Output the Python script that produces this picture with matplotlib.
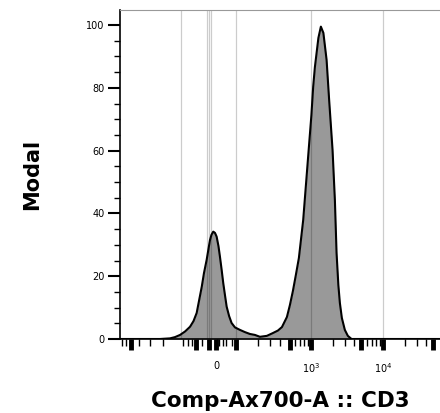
import numpy as np
import matplotlib
matplotlib.use("Agg")
import matplotlib.pyplot as plt

# histogram of CD3 (Comp-Ax700-A)
cd3 = [-1030, -280, -198, -165, -136, -111, -89, -75, -63, -54.7, -45, -37.7,
       -29, -18.5, -13.8, -8.3, -3, 2.1, 7.7, 12.3, 17.6, 22.6, 28, 33.5, 41.6,
       50, 62, 81, 102, 126, 153, 184, 235, 289, 342, 390, 459, 506, 558, 614,
       677, 778, 916, 1013, 1073, 1133, 1268, 1373, 1488, 1649, 1790, 1996,
       2150, 2269, 2403, 2522, 2688, 2957, 3255, 3662, 62000]
modal = [0, 0, 0.2, 0.6, 1.3, 2.4, 3.9, 5.7, 8.3, 12.1, 16.7, 21.0,
         25.2, 31.5, 33.2, 34.2, 33.8, 32.6, 29.6, 26.2, 22.0, 17.8, 14.0, 10.3, 7.3,
         5.1, 3.7, 2.9, 2.2, 1.6, 1.3, 0.7, 1.0, 1.9, 2.7, 3.8, 7.0, 10.8, 15.3, 20.4,
         25.8, 37.9, 58.6, 71.3, 80.4, 86.6, 95.9, 99.5, 97.5, 88.9, 76.1, 60.2,
         44.3, 27.4, 17.2, 11.5, 6.7, 2.9, 1.0, 0, 0]

# gray reference lines
gate_lines = [-131, -28, -23, -15.5, 65, 1000, 10000]

major_ticks = [-720, -65, -20, 0, 65, 500, 1000, 5000, 10000, 50000]
major_labels = ["", "", "", "0", "", "", "$10^3$", "", "$10^4$", ""]
minor_ticks = [-965, -850, -560, -390, -250, -120, -98, -81, -44, 3, 9, 21, 31,
               50, 172, 261, 365, 600, 700, 800, 900, 2000, 3000, 4000, 6000,
               7000, 8000, 9000, 20000, 30000, 40000]

W = 96.0


def fwd(x):
    return np.arcsinh(np.asarray(x) / W)


def inv(y):
    return W * np.sinh(np.asarray(y))


fig = plt.figure(figsize=(4.4, 4.13), dpi=100)
ax = fig.add_axes([120 / 440, 74 / 413, 320 / 440, 329 / 413])
ax.set_xscale("function", functions=(fwd, inv))

ax.fill_between(cd3, modal, 0, color="#999999", lw=0, zorder=1)
ax.plot(cd3, modal, color="black", lw=1.5, zorder=3, solid_joinstyle="round")
for g in gate_lines:
    ax.axvline(g, color="black", alpha=0.2, lw=0.9, zorder=2)

ax.set_xlim(-1030, 62000)
ax.set_ylim(0, 104.8)

ax.set_xticks(major_ticks)
ax.set_xticklabels(major_labels, fontsize=7)
ax.set_xticks(minor_ticks, minor=True)
ax.tick_params(axis="x", which="major", length=8, width=3.5, direction="out", pad=8)
ax.tick_params(axis="x", which="minor", length=5, width=1, direction="out")

ax.set_yticks([0, 20, 40, 60, 80, 100])
ax.set_yticks(np.arange(0, 105, 5), minor=True)
ax.tick_params(axis="y", which="major", length=9, width=1.5, labelsize=7, pad=2)
ax.tick_params(axis="y", which="minor", length=4, width=1)

ax.spines["right"].set_visible(False)
ax.spines["top"].set_color("#999999")
ax.spines["left"].set_linewidth(1.2)
ax.spines["bottom"].set_linewidth(1.2)

ax.set_xlabel("Comp-Ax700-A :: CD3", fontsize=15.5, fontweight="bold", labelpad=11.5)
ax.set_ylabel("Modal", fontsize=15, fontweight="bold", labelpad=32)

fig.savefig("out.png", dpi=100)
